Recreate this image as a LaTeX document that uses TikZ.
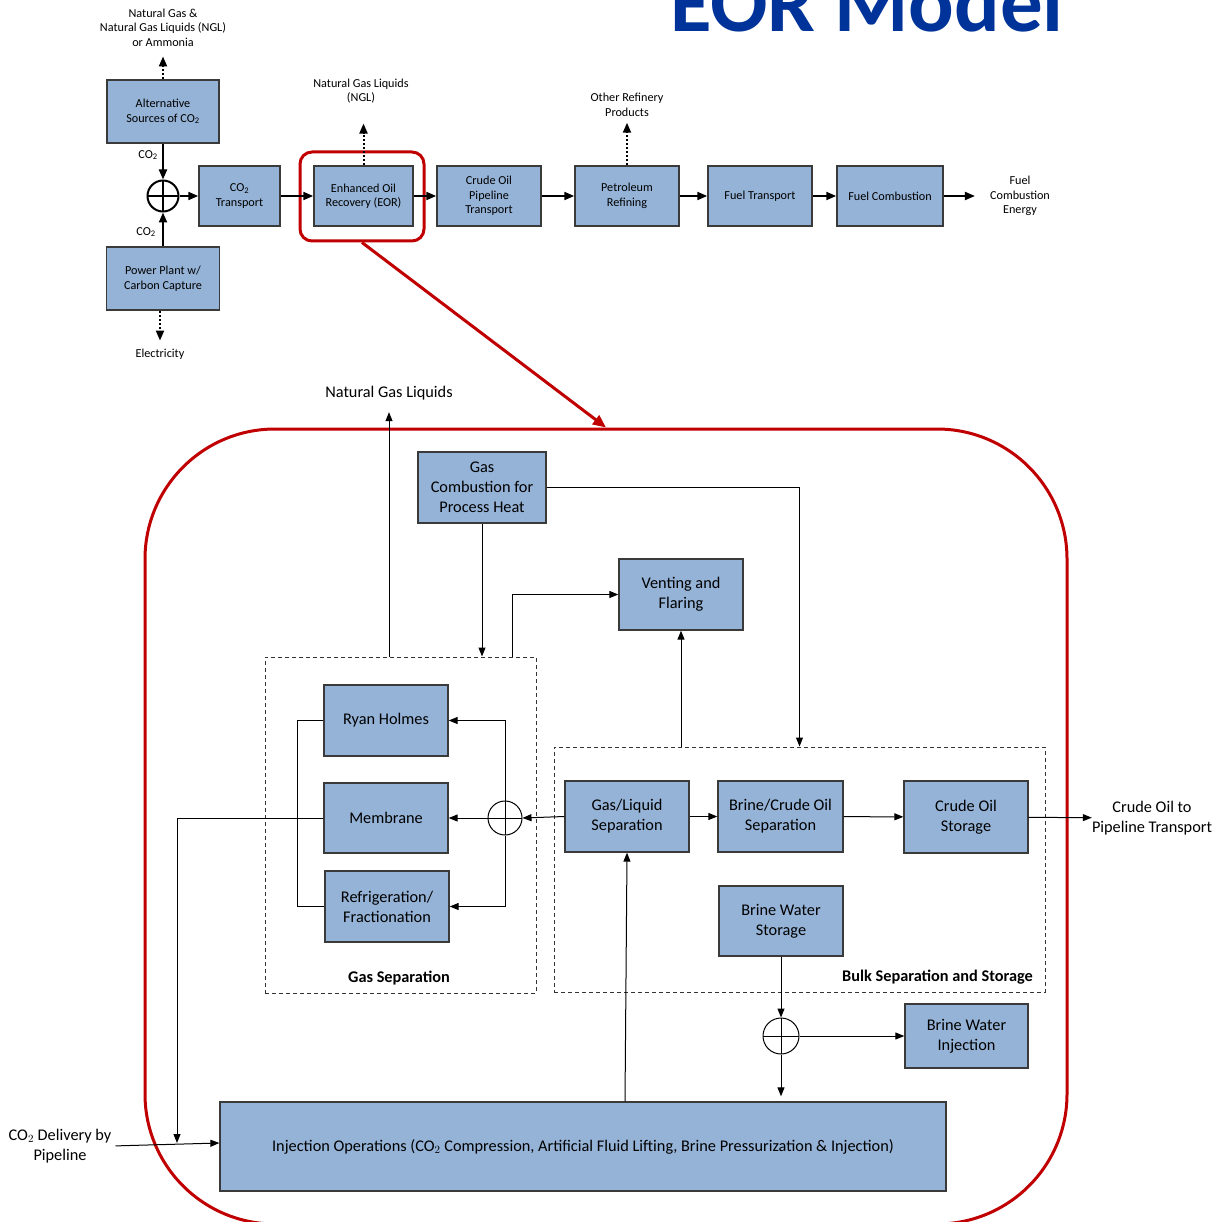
\documentclass[tikz,border=0pt]{standalone}
\usepackage{fontspec}
\setmainfont{Carlito}
\usetikzlibrary{arrows.meta,positioning}
\definecolor{eorBlue}{HTML}{95B3D7}
\definecolor{eorEdge}{HTML}{3A3A3A}
\definecolor{eorRed}{HTML}{C00000}
\definecolor{eorTitle}{HTML}{003399}

\begin{document}
\begin{tikzpicture}[x=1pt,y=-1pt,
  topbox/.style={draw=eorEdge,line width=1.5pt,fill=eorBlue,inner sep=0pt,align=center,font=\fontsize{12.2}{14.5}\selectfont},
  block/.style={draw=eorEdge,line width=1.3pt,fill=eorBlue,inner sep=0pt,align=center,font=\fontsize{16.3}{20}\selectfont},
  toptext/.style={inner sep=0pt,align=center,font=\fontsize{12.2}{14.5}\selectfont},
  lowtext/.style={inner sep=0pt,align=center,font=\fontsize{16.3}{20}\selectfont},
  group/.style={draw=black!80,line width=1pt,dash pattern=on 4pt off 3pt,inner sep=0pt},
  junction/.style={circle,draw,inner sep=0pt,minimum size=#1,path picture={\draw[line width=\pgflinewidth] (path picture bounding box.north)--(path picture bounding box.south) (path picture bounding box.west)--(path picture bounding box.east);}},
  heavy/.style={-{Triangle[length=10pt,width=8pt]},line width=2pt},
  dotflow/.style={-{Triangle[length=10pt,width=8pt]},line width=2pt,dash pattern=on 2pt off 2pt},
  lite/.style={-{Triangle[length=9pt,width=7pt]},line width=1pt},
  redline/.style={draw=eorRed,line width=3pt}]
\useasboundingbox (0,0) rectangle (1214,1222);
\clip (0,0) rectangle (1214,1222);
% title
\node[anchor=base,inner sep=0pt,text=eorTitle,font=\fontsize{85}{90}\selectfont\bfseries] (title) at (867,32) {EOR Model};
% upstream chain
\node[topbox,minimum width=112pt,minimum height=63pt] (alt) at (163,111.5) {Alternative\\Sources of CO\textsubscript{2}};
\node[topbox,minimum width=113pt,minimum height=63pt] (pwr) at (163,278.5) {Power Plant w/\\Carbon Capture};
\node[junction=31pt,line width=2pt] (sumTop) at (163,196) {};
\node[topbox,minimum width=81pt,minimum height=60pt] (co2tr) at (239.5,196) {CO\textsubscript{2}\\Transport};
\node[topbox,minimum width=99pt,minimum height=60pt] (eor) at (363.5,196) {Enhanced Oil\\Recovery (EOR)};
\node[redline,rounded corners=12pt,minimum width=124pt,minimum height=89pt] (eorFrame) at (362,196.5) {};
\node[topbox,minimum width=104pt,minimum height=60pt] (pipe) at (489,196) {Crude Oil\\Pipeline\\Transport};
\node[topbox,minimum width=104pt,minimum height=60pt] (refine) at (627,196) {Petroleum\\Refining};
\node[topbox,minimum width=104pt,minimum height=60pt] (fueltr) at (760,196) {Fuel Transport};
\node[topbox,minimum width=106pt,minimum height=60pt] (fuelcomb) at (890,196) {Fuel Combustion};
\node[toptext] (ngOut) at (163,27.5) {Natural Gas \&\\Natural Gas Liquids (NGL)\\or Ammonia};
\node[toptext] (nglOut) at (361,91) {Natural Gas Liquids\\(NGL)};
\node[toptext] (otherOut) at (627,105) {Other Refinery\\Products};
\node[toptext] (elecOut) at (160,354) {Electricity};
\node[toptext] (energyOut) at (1020,196) {Fuel\\Combustion\\Energy};
\node[toptext] (co2a) at (148,155) {CO\textsubscript{2}};
\node[toptext] (co2b) at (146,232) {CO\textsubscript{2}};
\draw[heavy] (alt) -- (sumTop);
\draw[heavy] (pwr) -- (sumTop);
\draw[heavy] (sumTop) -- (co2tr);
\draw[heavy] (co2tr) -- (eor);
\draw[heavy] (eor) -- (pipe);
\draw[heavy] (pipe) -- (refine);
\draw[heavy] (refine) -- (fueltr);
\draw[heavy] (fueltr) -- (fuelcomb);
\draw[heavy,shorten >=15pt] (fuelcomb) -- (energyOut);
\draw[dotflow,shorten >=10pt] (alt) -- (ngOut);
\draw[dotflow,shorten >=20pt] (eor) -- (eor |- nglOut.south);
\draw[dotflow,shorten >=6pt] (refine) -- (otherOut);
\draw[dotflow,shorten >=8pt] (pwr.south -| elecOut) -- (elecOut);
% EOR detail
\node[redline,rounded corners=130pt,minimum width=922pt,minimum height=795pt] (bigFrame) at (606,826.5) {};
\draw[redline,-{Triangle[length=13pt,width=11pt]}] (eorFrame.south) -- (bigFrame.north);
\node[lowtext] (nglLabel) at (389,393) {Natural Gas Liquids};
\node[block,minimum width=128pt,minimum height=71pt] (gasComb) at (482,487.5) {Gas\\Combustion for\\Process Heat};
\node[block,minimum width=124pt,minimum height=71pt] (vent) at (681,594.5) {Venting and\\Flaring};
\node[group,minimum width=271pt,minimum height=336pt] (gasSep) at (400.5,825) {};
\node[group,minimum width=491pt,minimum height=245pt] (bulkSep) at (799.5,869.5) {};
\node[lowtext,font=\fontsize{16.3}{20}\selectfont\bfseries] (gasSepLabel) at (399,978) {Gas Separation};
\node[lowtext,anchor=east,font=\fontsize{16.3}{20}\selectfont\bfseries] (bulkLabel) at (1033,977) {Bulk Separation and Storage};
\node[block,minimum width=124pt,minimum height=71pt] (ryan) at (386,720.5) {Ryan Holmes};
\node[block,minimum width=124pt,minimum height=70pt] (membrane) at (386,818) {Membrane};
\node[block,minimum width=124pt,minimum height=71pt] (refrig) at (387,906.5) {Refrigeration/\\Fractionation};
\node[junction=34pt,line width=1pt] (sumGas) at (505,818) {};
\node[block,minimum width=124pt,minimum height=71pt] (gls) at (627,816.5) {Gas/Liquid\\Separation};
\node[block,minimum width=125pt,minimum height=71pt] (bcos) at (780.5,816.5) {Brine/Crude Oil\\Separation};
\node[block,minimum width=124pt,minimum height=72pt] (cos) at (966,817) {Crude Oil\\Storage};
\node[block,minimum width=124pt,minimum height=70pt] (bws) at (781,921) {Brine Water\\Storage};
\node[junction=36pt,line width=1pt] (sumBrine) at (781,1036) {};
\node[block,minimum width=123pt,minimum height=64pt] (bwi) at (966.5,1036) {Brine Water\\Injection};
\node[block,minimum width=726pt,minimum height=89pt] (inj) at (583,1146.5) {Injection Operations (CO$_2$ Compression, Artificial Fluid Lifting, Brine Pressurization \& Injection)};
\node[lowtext] (crudeOut) at (1152,818) {Crude Oil to\\Pipeline Transport};
\node[lowtext] (co2In) at (60,1146) {CO$_2$ Delivery by\\Pipeline};
\coordinate (co2Join) at (177,1143);
\draw[lite,shorten >=12pt] (gasSep.north -| nglLabel) -- (nglLabel);
\draw[lite] (gasComb.east) -| (bulkSep.north);
\draw[lite] (gasComb.south) -- (gasComb.south |- gasSep.north);
\draw[lite] ([xshift=111.5pt]gasSep.north) |- (vent.west);
\draw[lite] (bulkSep.north -| vent) -- (vent.south);
\draw[lite] (gls.west) -- (sumGas.east);
\draw[lite] (sumGas.west) -- (membrane.east);
\draw[lite] (sumGas.north) |- (ryan.east);
\draw[lite] (sumGas.south) |- (refrig.east);
\draw[line width=1pt] (ryan.west) -- ++(-26,0) |- (refrig.west);
\draw[lite] (membrane.west) -| (co2Join);
\draw[lite,shorten <=4pt] (co2In.east) -- (inj.west |- co2Join);
\draw[lite] (gls) -- (bcos);
\draw[lite] (bcos) -- (cos);
\draw[lite] (cos) -- (crudeOut);
\draw[lite] (bws) -- (sumBrine);
\draw[lite] (sumBrine) -- (bwi);
\draw[lite,shorten >=5pt] (sumBrine) -- (sumBrine |- inj.north);
\draw[lite] ([xshift=42pt]inj.north) -- (gls.south);
\end{tikzpicture}
\end{document}
